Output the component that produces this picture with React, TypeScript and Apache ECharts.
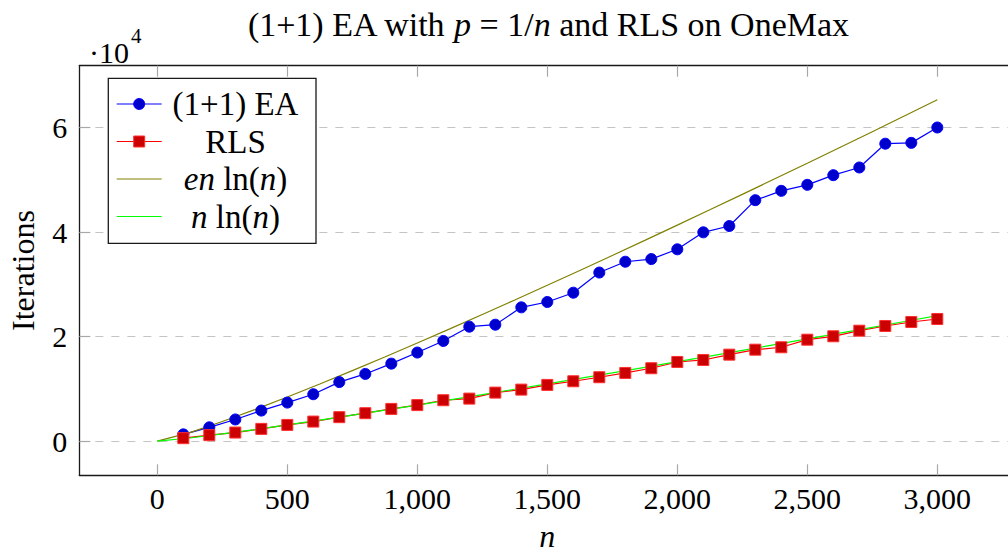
import React, { useEffect, useRef } from "react";
import * as echarts from "echarts";

// ---- data ----
const runN = [100, 200, 300, 400, 500, 600, 700, 800, 900, 1000, 1100, 1200, 1300, 1400, 1500, 1600, 1700, 1800, 1900, 2000, 2100, 2200, 2300, 2400, 2500, 2600, 2700, 2800, 2900, 3000];
const eaIterations = [1300, 2650, 4150, 5850, 7380, 8980, 11300, 12860, 14830, 16950, 19170, 21900, 22280, 25600, 26620, 28400, 32250, 34320, 34830, 36700, 39950, 41150, 46100, 47880, 49030, 50880, 52350, 56900, 57060, 60000];
const rlsIterations = [570, 1150, 1650, 2350, 3110, 3750, 4590, 5350, 6170, 6900, 7830, 8140, 9290, 9860, 10760, 11460, 12230, 13050, 13950, 15150, 15530, 16550, 17500, 17960, 19410, 20060, 21130, 22030, 22800, 23370];
const curveN = [0, 125, 250, 375, 500, 625, 750, 875, 1000, 1125, 1250, 1375, 1500, 1625, 1750, 1875, 2000, 2125, 2250, 2375, 2500, 2625, 2750, 2875, 3000];
const enlnValues = [0, 1641, 3752, 6042, 8447, 10937, 13497, 16112, 18777, 21485, 24230, 27009, 29819, 32658, 35523, 38412, 41323, 44256, 47209, 50181, 53170, 56176, 59199, 62238, 65291];
const nlnValues = [0, 604, 1380, 2223, 3107, 4024, 4965, 5927, 6908, 7904, 8914, 9936, 10970, 12014, 13068, 14131, 15202, 16281, 17367, 18460, 19560, 20666, 21778, 22896, 24019];
const xTicks = [0, 500, 1000, 1500, 2000, 2500, 3000];
const yTicks = [0, 20000, 40000, 60000];
const seriesNames = ["(1+1) EA", "RLS", "en ln(n)", "n ln(n)"];
const legendRich = [
  "{r|(1+1) EA}",
  "{r|RLS}",
  "{i|en}{r| ln(}{i|n}{r|)}",
  "{i|n}{r| ln(}{i|n}{r|)}",
];

const FONT = "'Liberation Serif', 'Times New Roman', serif";
const makeRich = (size: number) => ({
  r: { fontFamily: FONT, fontSize: size, fontStyle: "normal", fill: "#000", color: "#000" },
  i: { fontFamily: FONT, fontSize: size, fontStyle: "italic", fill: "#000", color: "#000" },
});

export default function App() {
  const ref = useRef<HTMLDivElement>(null);
  useEffect(() => {
    document.body.style.margin = "0";
    const chart = echarts.init(ref.current!, null, { renderer: "svg" });
    const tickStyle = { color: "#a8a8a8", width: 1.2 };
    const axisLineStyle = { color: "#1a1a1a", width: 1.3 };
    const legendX0 = 116.7;
    const legendX1 = 161.7;
    const legendRows = [104, 141.5, 179, 216.5];
    const legendColors = ["#0000ff", "#ff0000", "#808000", "#00ff00"];

    const legendEls: any[] = [
      {
        type: "rect",
        shape: { x: 108.3, y: 78.3, width: 207.7, height: 165 },
        style: { fill: "#fff", stroke: "#1a1a1a", lineWidth: 1.3 },
        z: 100,
      },
    ];
    legendRows.forEach((yy, i) => {
      legendEls.push({
        type: "line",
        shape: { x1: legendX0, y1: yy, x2: legendX1, y2: yy },
        style: { stroke: legendColors[i], lineWidth: 1.2 },
        z: 101,
      });
      if (i === 0) {
        legendEls.push({
          type: "circle",
          shape: { cx: (legendX0 + legendX1) / 2, cy: yy, r: 5.5 },
          style: { fill: "#0000cc", stroke: "#0000ff", lineWidth: 1 },
          z: 102,
        });
      }
      if (i === 1) {
        legendEls.push({
          type: "rect",
          shape: { x: (legendX0 + legendX1) / 2 - 5.5, y: yy - 5.5, width: 11, height: 11 },
          style: { fill: "#cc0000", stroke: "#ff3030", lineWidth: 1 },
          z: 102,
        });
      }
      legendEls.push({
        type: "text",
        x: 235.5,
        y: yy,
        style: {
          text: legendRich[i],
          rich: makeRich(33),
          align: "center",
          verticalAlign: "middle",
          fontFamily: FONT,
          fontSize: 33,
          fill: "#000",
        },
        z: 102,
      });
    });

    const option: any = {
      animation: false,
      backgroundColor: "#fff",
      grid: {
        left: 79.3,
        top: 65.7,
        right: -7.3,
        bottom: 554 - 475.3,
        show: false,
        containLabel: false,
        outerBoundsMode: "none",
      },
      graphic: [
        {
          type: "text",
          x: 548,
          y: 24,
          style: {
            text: "{r|(1+1) EA with }{i|p}{r| = 1/}{i|n}{r| and RLS on OneMax}",
            rich: makeRich(34),
            align: "center",
            verticalAlign: "middle",
            fontFamily: FONT,
            fontSize: 34,
            fill: "#000",
          },
        },
        {
          type: "text",
          x: 129,
          y: 52,
          style: { text: "·10", align: "right", verticalAlign: "middle", fontFamily: FONT, fontSize: 30, fill: "#000" },
        },
        {
          type: "text",
          x: 131,
          y: 36,
          style: { text: "4", align: "left", verticalAlign: "middle", fontFamily: FONT, fontSize: 21, fill: "#000" },
        },
        ...legendEls,
      ],
      xAxis: [
        {
          type: "value",
          position: "bottom",
          min: -300,
          max: 3300,
          axisLine: { show: true, onZero: false, lineStyle: axisLineStyle },
          axisTick: { show: true, inside: true, length: 11, customValues: xTicks, lineStyle: tickStyle },
          axisLabel: {
            customValues: xTicks,
            formatter: (v: number) => v.toLocaleString("en-US"),
            margin: 8,
            fontFamily: FONT,
            fontSize: 30,
            color: "#000",
          },
          splitLine: { show: false },
          name: "n",
          nameLocation: "middle",
          nameGap: 51,
          nameTextStyle: { fontFamily: FONT, fontSize: 32, fontStyle: "italic", color: "#000", lineHeight: 20 },
        },
        {
          type: "value",
          position: "top",
          min: -300,
          max: 3300,
          axisLine: { show: true, onZero: false, lineStyle: axisLineStyle },
          axisTick: { show: true, inside: true, length: 11, customValues: xTicks, lineStyle: tickStyle },
          axisLabel: { show: false },
          splitLine: { show: false },
        },
      ],
      yAxis: [
        {
          type: "value",
          position: "left",
          min: -6529,
          max: 71820,
          axisLine: { show: true, onZero: false, lineStyle: axisLineStyle },
          axisTick: { show: true, inside: true, length: 11, customValues: yTicks, lineStyle: tickStyle },
          axisLabel: {
            customValues: yTicks,
            formatter: (v: number) => String(v / 10000),
            margin: 12,
            fontFamily: FONT,
            fontSize: 30,
            color: "#000",
          },
          splitLine: { show: true, lineStyle: { type: [8, 8], color: "#c4c4c4", width: 1.2 } },
          name: "Iterations",
          nameLocation: "middle",
          nameGap: 40,
          nameRotate: 90,
          nameTextStyle: { fontFamily: FONT, fontSize: 32, color: "#000" },
        },
      ],
      series: [
        {
          name: seriesNames[0],
          type: "line",
          data: runN.map((n, i) => [n, eaIterations[i]]),
          symbol: "circle",
          symbolSize: 11,
          lineStyle: { color: "#0000ff", width: 1.2 },
          itemStyle: { color: "#0000cc", borderColor: "#0000ff", borderWidth: 1 },
        },
        {
          name: seriesNames[1],
          type: "line",
          data: runN.map((n, i) => [n, rlsIterations[i]]),
          symbol: "rect",
          symbolSize: 11,
          lineStyle: { color: "#ff0000", width: 1.2 },
          itemStyle: { color: "#cc0000", borderColor: "#ff3030", borderWidth: 1 },
        },
        {
          name: seriesNames[2],
          type: "line",
          data: curveN.map((n, i) => [n, enlnValues[i]]),
          showSymbol: false,
          symbol: "none",
          lineStyle: { color: "#808000", width: 1.2 },
          itemStyle: { color: "#808000" },
        },
        {
          name: seriesNames[3],
          type: "line",
          data: curveN.map((n, i) => [n, nlnValues[i]]),
          showSymbol: false,
          symbol: "none",
          lineStyle: { color: "#00ff00", width: 1.2 },
          itemStyle: { color: "#00ff00" },
        },
      ],
    };
    chart.setOption(option);
    return () => chart.dispose();
  }, []);
  return <div ref={ref} style={{ width: 1008, height: 554 }} />;
}
